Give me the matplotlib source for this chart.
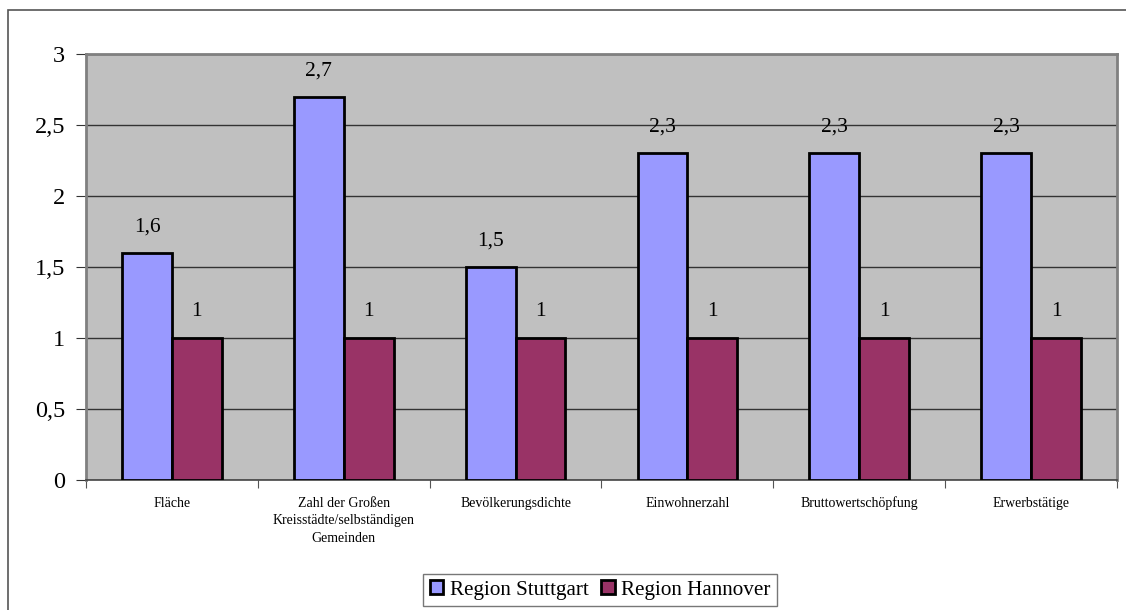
import matplotlib
matplotlib.use("Agg")
import matplotlib.pyplot as plt
import numpy as np
from matplotlib.patches import Rectangle

categories = ["Fläche", "Zahl der Großen\nKreisstädte/selbständigen\nGemeinden",
              "Bevölkerungsdichte", "Einwohnerzahl", "Bruttowertschöpfung", "Erwerbstätige"]
stuttgart = [1.6, 2.7, 1.5, 2.3, 2.3, 2.3]
hannover = [1, 1, 1, 1, 1, 1]
series_names = ["Region Stuttgart", "Region Hannover"]
yticks = [0, 0.5, 1, 1.5, 2, 2.5, 3]

plt.rcParams['font.family'] = ['Liberation Serif', 'DejaVu Serif']

W, H = 1126, 610
fig = plt.figure(figsize=(W/100, H/100), dpi=100)
fig.patch.set_facecolor("white")

# outer frame (left and top visible)
fig.add_artist(Rectangle((8/W, -0.1), 1.2, (1 - 10/H) + 0.1, transform=fig.transFigure,
                         fill=False, edgecolor="#555555", linewidth=1.2))

left, right, top, bottom = 86, 1117, 54, 480
ax = fig.add_axes([left/W, 1 - bottom/H, (right-left)/W, (bottom-top)/H])
ax.set_facecolor("#C0C0C0")

x = np.arange(len(categories))
bw = 0.29
b1 = ax.bar(x - bw/2, stuttgart, bw, color="#9999FF", edgecolor="black", linewidth=2,
            label=series_names[0], zorder=3)
b2 = ax.bar(x + bw/2, hannover, bw, color="#993366", edgecolor="black", linewidth=2,
            label=series_names[1], zorder=3)

def fmt(v):
    return ("%g" % v).replace(".", ",")

for bars, vals in ((b1, stuttgart), (b2, hannover)):
    for rect, v in zip(bars, vals):
        ax.annotate(fmt(v), (rect.get_x() + rect.get_width()/2, v),
                    xytext=(0, 26*0.72), textcoords="offset points",
                    ha="center", va="center", fontsize=15.5, color="black")

ax.set_xlim(-0.5, len(categories) - 0.5)
ax.set_ylim(0, 3)
ax.set_yticks(yticks)
ax.set_yticklabels([fmt(v) for v in yticks], fontsize=17.5)
ax.yaxis.grid(True, color="#333333", linewidth=1, zorder=1)
ax.set_axisbelow(True)

ax.set_xticks(np.arange(len(categories) + 1) - 0.5)
ax.set_xticklabels([])
ax.set_xticks(x, minor=True)
ax.set_xticklabels(categories, minor=True, fontsize=10, linespacing=1.45)
ax.tick_params(axis="x", which="minor", length=0, pad=12)
ax.tick_params(axis="x", which="major", length=6, color="#555555", direction="out")
ax.tick_params(axis="y", length=7, color="#333333", direction="out", pad=8)

for s in ("left", "top", "right"):
    ax.spines[s].set_color("#808080")
    ax.spines[s].set_linewidth(2)
ax.spines["bottom"].set_color("#444444")
ax.spines["bottom"].set_linewidth(1.2)

leg = fig.legend(handles=[b1, b2], loc="center", bbox_to_anchor=(600/W, 1 - 590/H),
                 ncol=2, fontsize=15.2, frameon=True, fancybox=False, edgecolor="#555555",
                 handlelength=0.65, handleheight=0.65, handletextpad=0.3, columnspacing=0.6,
                 borderpad=0.3)
leg.get_frame().set_linewidth(1.0)

fig.savefig("out.png", dpi=100, facecolor="white")
